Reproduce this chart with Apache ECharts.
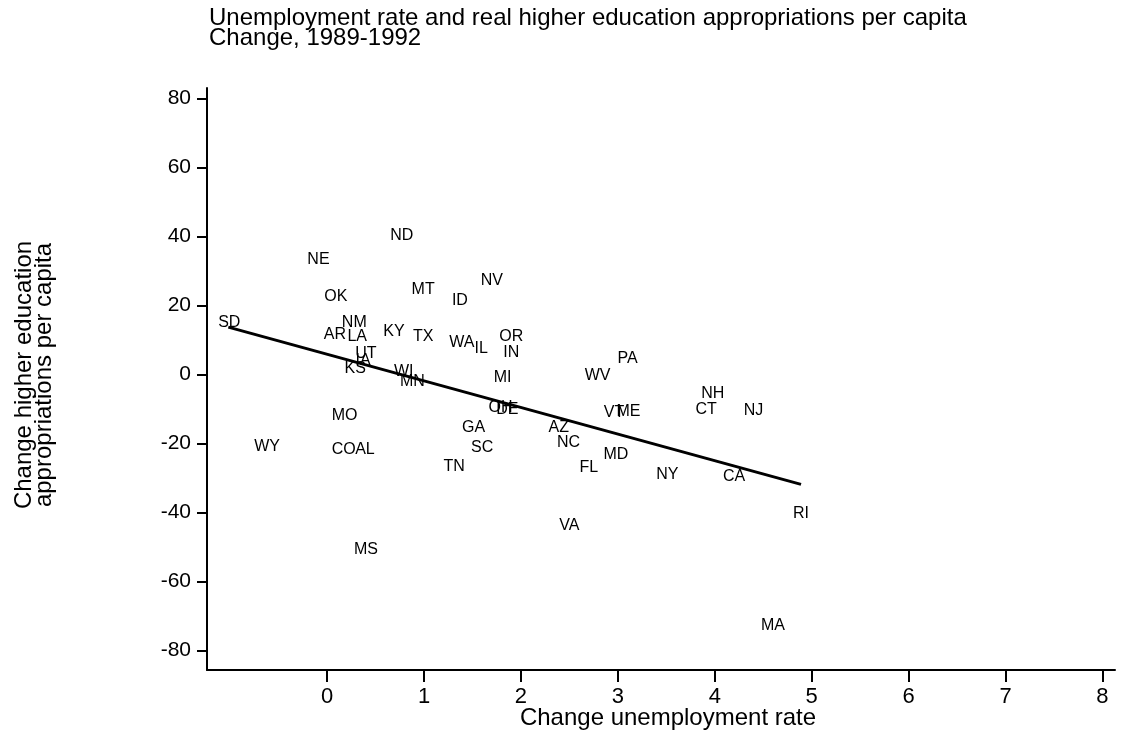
<!DOCTYPE html>
<html>
<head>
<meta charset="utf-8">
<script src="https://cdn.jsdelivr.net/npm/echarts@6/dist/echarts.min.js"></script>
<style>html,body{margin:0;padding:0;background:#fff}#c{width:1133px;height:737px}</style>
</head>
<body>
<div id="c"></div>
<script>
// State labels and values
var states = ['SD','NE','ND','OK','MT','ID','NV','NM','AR','LA','KY','TX','WA','IL','OR','IN','UT','IA','KS','WI','MN','MI','PA','WV','NH','CT','NJ','VT','ME','OH','DE','AZ','GA','NC','SC','MD','FL','TN','NY','CA','RI','MO','WY','CO','AL','MS','VA','MA'];
var unempChange = [-1.01,-0.09,0.77,0.09,0.99,1.37,1.70,0.28,0.08,0.31,0.69,0.99,1.39,1.59,1.90,1.90,0.40,0.37,0.29,0.79,0.88,1.81,3.10,2.79,3.98,3.91,4.40,2.96,3.11,1.79,1.86,2.39,1.51,2.49,1.60,2.98,2.70,1.31,3.51,4.20,4.89,0.18,-0.62,0.17,0.39,0.40,2.50,4.60];
var approChange = [15.0,33.5,40.2,22.5,24.8,21.4,27.2,15.0,11.5,10.9,12.4,10.9,9.2,7.7,10.9,6.3,6.0,4.0,1.9,0.8,-2.1,-0.7,4.6,-0.4,-5.6,-10.2,-10.5,-11.1,-10.8,-9.4,-10.2,-15.2,-15.2,-19.8,-21.2,-23.3,-27.0,-26.5,-29.1,-29.4,-40.4,-12.0,-20.7,-21.8,-21.8,-50.8,-43.6,-72.8];
// Fitted line end points
var fitX = [-1.02, 4.89];
var fitY = [13.8, -31.8];
var xTicks = [0,1,2,3,4,5,6,7,8];
var yTicks = [-80,-60,-40,-20,0,20,40,60,80];

var FONT = 'Liberation Sans, Arial, Helvetica, sans-serif';
var chart = echarts.init(document.getElementById('c'), null, {renderer:'canvas'});

var pts = states.map(function(s,i){ return {name:s, value:[unempChange[i], approChange[i]]}; });
var fit = fitX.map(function(x,i){ return [x, fitY[i]]; });

chart.setOption({
  animation:false,
  backgroundColor:'#fff',
  title:{
    text:'Unemployment rate and real higher education appropriations per capita\nChange, 1989-1992',
    left:204, top:3,
    textStyle:{fontFamily:FONT, fontSize:24, fontWeight:'normal', color:'#000', lineHeight:20}
  },
  grid:{left:207, right:18, top:88, bottom:67, containLabel:false},
  xAxis:{
    type:'value', min:-1.24, max:8.13,
    axisLine:{show:true, onZero:false, lineStyle:{color:'#000', width:2}},
    axisTick:{show:true, inside:false, length:12, customValues:xTicks, lineStyle:{color:'#000', width:2}},
    axisLabel:{customValues:xTicks, margin:16, color:'#000', fontFamily:FONT, fontSize:22},
    splitLine:{show:false}
  },
  yAxis:{
    type:'value', min:-85.6, max:83.1,
    axisLine:{show:true, onZero:false, lineStyle:{color:'#000', width:2}},
    axisTick:{show:true, inside:false, length:10, customValues:yTicks, lineStyle:{color:'#000', width:2}},
    axisLabel:{customValues:yTicks, margin:16, color:'#000', fontFamily:FONT, fontSize:21},
    splitLine:{show:false}
  },
  graphic:[
    {type:'text', x:668, y:718, style:{text:'Change unemployment rate', fontFamily:FONT, fontSize:24, fill:'#000', align:'center', verticalAlign:'middle'}},
    {type:'text', x:34, y:375, rotation:Math.PI/2, style:{text:'Change higher education\nappropriations per capita', fontFamily:FONT, fontSize:24, lineHeight:20, fill:'#000', align:'center', verticalAlign:'middle'}}
  ],
  series:[
    {
      type:'scatter', data:pts, symbol:'circle', symbolSize:0,
      itemStyle:{color:'#000', opacity:1},
      label:{show:true, position:'inside', formatter:'{b}', color:'#000', opacity:1, textBorderWidth:0, fontFamily:FONT, fontSize:16},
      emphasis:{disabled:true},
      z:2
    },
    {
      type:'line', data:fit, symbol:'none', lineStyle:{color:'#000', width:3}, z:3
    }
  ]
});
</script>
</body>
</html>
